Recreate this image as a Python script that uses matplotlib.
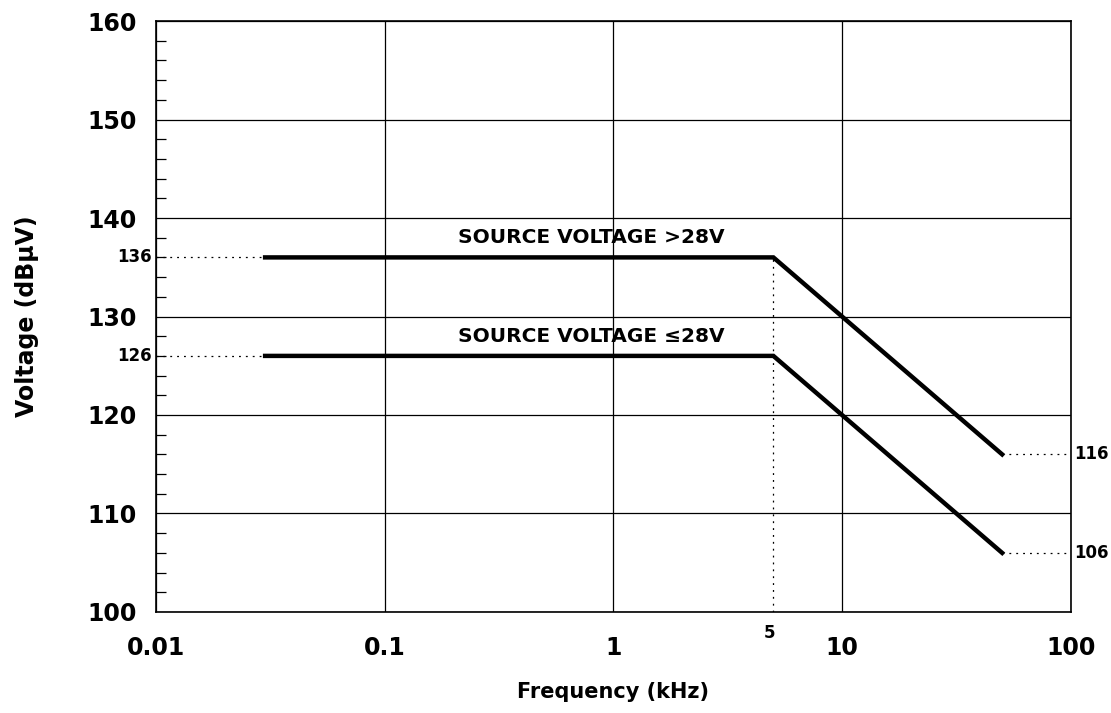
import matplotlib
matplotlib.use("Agg")
import matplotlib.pyplot as plt
from matplotlib.ticker import FixedLocator, NullFormatter, NullLocator

plt.rcParams['font.family'] = ['DejaVu Sans']
plt.rcParams['font.weight'] = 'bold'

# limit curves (kHz, dBuV)
freq = [0.03, 5, 50]
high_v = [136, 136, 116]   # source voltage > 28V
low_v = [126, 126, 106]    # source voltage <= 28V

x_ticks = [0.01, 0.1, 1, 10, 100]
x_labels = ['0.01', '0.1', '1', '10', '100']
y_ticks = [100, 110, 120, 130, 140, 150, 160]
corner_f = 5

fig = plt.figure(figsize=(11.11, 7.13), dpi=100)
ax = fig.add_axes([0.1404, 0.1417, 0.8236, 0.8288])

ax.set_xscale('log')
ax.set_xlim(0.01, 100)
ax.set_ylim(100, 160)

ax.plot(freq, high_v, color='black', lw=3.2, solid_joinstyle='miter', zorder=3)
ax.plot(freq, low_v, color='black', lw=3.2, solid_joinstyle='miter', zorder=3)

dots = dict(color='black', lw=0.9, linestyle=(0, (1.5, 4)), zorder=2)
# leaders from the y axis to the start of each curve
ax.plot([0.01, freq[0]], [high_v[0], high_v[0]], **dots)
ax.plot([0.01, freq[0]], [low_v[0], low_v[0]], **dots)
# corner frequency drop line
ax.plot([corner_f, corner_f], [100, high_v[1]], **dots)
# leaders from the end of each curve to the right edge
ax.plot([freq[-1], 100], [high_v[-1], high_v[-1]], **dots)
ax.plot([freq[-1], 100], [low_v[-1], low_v[-1]], **dots)

ax.text(0.8, 138.0, 'SOURCE VOLTAGE >28V', ha='center', va='center',
        fontsize=14.5, fontweight='bold')
ax.text(0.8, 128.0, 'SOURCE VOLTAGE \u226428V', ha='center', va='center',
        fontsize=14.5, fontweight='bold')

# grid
ax.xaxis.set_major_locator(FixedLocator(x_ticks))
ax.xaxis.set_minor_locator(NullLocator())
ax.set_xticklabels(x_labels)
ax.yaxis.set_major_locator(FixedLocator(y_ticks))
ax.yaxis.set_minor_locator(FixedLocator(range(100, 161, 2)))
ax.yaxis.set_minor_formatter(NullFormatter())
ax.grid(True, which='major', color='black', lw=0.9)

ax.tick_params(axis='both', which='major', length=0, labelsize=17, pad=17)
ax.tick_params(axis='y', which='minor', direction='in', length=7, width=0.9)
ax.tick_params(axis='y', which='major', pad=14)
for lab in ax.get_xticklabels() + ax.get_yticklabels():
    lab.set_fontweight('bold')

for sp in ax.spines.values():
    sp.set_linewidth(1.2)

# small value labels
small = dict(fontsize=12, fontweight='bold')
ax.annotate('136', xy=(0, high_v[0]), xycoords=('axes fraction', 'data'),
            xytext=(-3, 0), textcoords='offset points', ha='right', va='center', **small)
ax.annotate('126', xy=(0, low_v[0]), xycoords=('axes fraction', 'data'),
            xytext=(-3, 0), textcoords='offset points', ha='right', va='center', **small)
ax.annotate('116', xy=(1, high_v[-1]), xycoords=('axes fraction', 'data'),
            xytext=(2, 0), textcoords='offset points', ha='left', va='center', **small)
ax.annotate('106', xy=(1, low_v[-1]), xycoords=('axes fraction', 'data'),
            xytext=(2, 0), textcoords='offset points', ha='left', va='center', **small)
ax.annotate('5', xy=(corner_f, 0), xycoords=('data', 'axes fraction'),
            xytext=(-3, -9), textcoords='offset points', ha='center', va='top', **small)

ax.set_xlabel('Frequency (kHz)', fontsize=15, fontweight='bold', labelpad=16)
ax.set_ylabel('Voltage (dB\u00b5V)', fontsize=17, fontweight='bold', labelpad=35)

fig.savefig('out.png', dpi=100)
